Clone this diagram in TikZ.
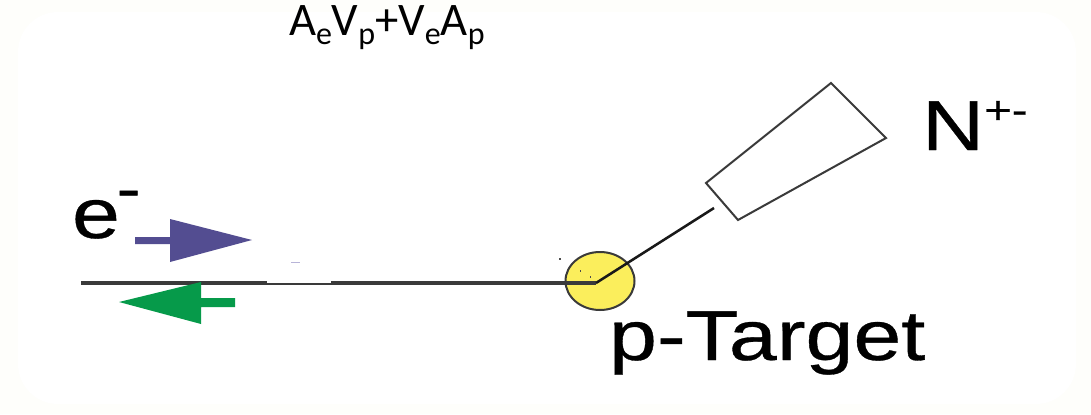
\documentclass[tikz,border=0pt]{standalone}
\usetikzlibrary{shapes.geometric}
\usepackage{fontspec}
\setmainfont{Liberation Sans}[FakeBold=0.45]
\newfontfamily\calfont{Carlito}
\definecolor{creamedge}{HTML}{FEFEFB}
\definecolor{beamblue}{HTML}{534D91}
\definecolor{beamgreen}{HTML}{069A4A}
\definecolor{targetyellow}{HTML}{FBEE5C}
\definecolor{beamline}{HTML}{3A3A3A}
\definecolor{outline}{HTML}{3A3A3A}
\definecolor{speck}{HTML}{B8B4D8}
\newcommand{\wideText}[1]{\scalebox{1.22}[1]{#1}}
\tikzset{
  lbl/.style={anchor=base west,inner sep=0pt,outer sep=0pt,text=black},
  beam/.style={draw=beamline,line width=2.3pt},
  track/.style={draw=black!90,line width=1.9pt},
  targetdisc/.style={ellipse,draw=outline,fill=targetyellow,line width=1.5pt,inner sep=0pt,minimum width=51.75pt,minimum height=43.5pt}
}
\begin{document}
\begin{tikzpicture}[x=0.75pt,y=-0.75pt]
\useasboundingbox (0,0) rectangle (1091,414);
\fill[creamedge] (0,0) rectangle (1091,414);
\fill[white,rounded corners=30pt] (18,12) rectangle (1076,404);
% title
\node[lbl,font=\calfont\fontsize{35}{35}\selectfont] (title) at (289,36)
  {A\raisebox{-6.5pt}{\fontsize{24}{24}\selectfont e}V\raisebox{-6.5pt}{\fontsize{24}{24}\selectfont p}+V\raisebox{-6.5pt}{\fontsize{24}{24}\selectfont e}A\raisebox{-6.5pt}{\fontsize{24}{24}\selectfont p}};
% beam
\coordinate (beamstart) at (81,283);
\coordinate (vertex) at (596,283);
\coordinate (trackend) at (714,208);
% target
\node[targetdisc] (target) at (600,281) {};
\draw[beam] (beamstart) -- (vertex);
\draw[white,line width=1.4pt] (267,282) -- (331,282);
\draw[track] (vertex) -- (trackend);
% specks
\fill[speck] (291,261.5) rectangle (300,263);
\fill[black!70] (559,258) rectangle (561,259.5);
\fill[black!70] (579.5,270) rectangle (581,272);
\fill[black!70] (589.5,276) rectangle (591,278);
% detector
\draw[draw=outline,fill=white,line width=1.5pt,line join=miter]
  (831,83) -- (886,138) -- (738,220) -- (706,183) -- cycle;
% blue arrow
\fill[beamblue] (135,237) -- (170,237) -- (170,219) -- (252,240) -- (170,262) -- (170,244) -- (135,244) -- cycle;
% green arrow
\fill[beamgreen] (235,298) -- (201,298) -- (201,282) -- (119,302) -- (201,324) -- (201,307) -- (235,307) -- cycle;
% labels
\node[lbl,font=\fontsize{53}{53}\selectfont] (elabel) at (72,238)
  {\wideText{e\raisebox{22pt}{\fontsize{44}{44}\selectfont\hspace{-2pt}-}}};
\node[lbl,font=\fontsize{53}{53}\selectfont] (nlabel) at (922,150)
  {\wideText{N\raisebox{20pt}{\fontsize{29}{29}\selectfont +-}}};
\node[lbl,font=\fontsize{53}{53}\selectfont] (tlabel) at (609,360)
  {\wideText{p-Target}};
\end{tikzpicture}
\end{document}
